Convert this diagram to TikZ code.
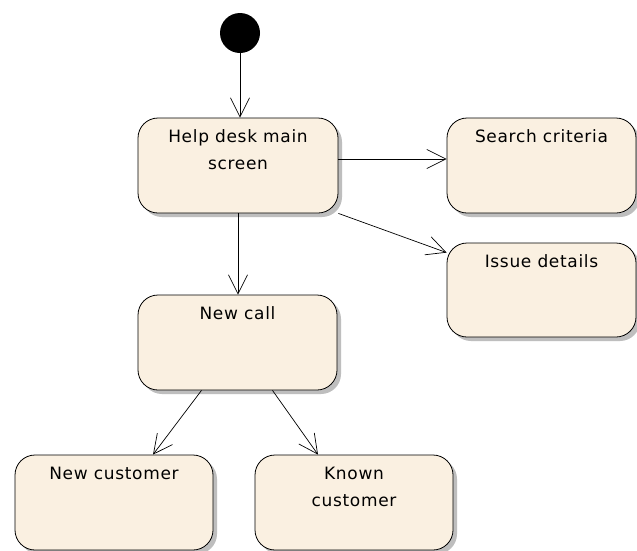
\documentclass[tikz,border=0pt]{standalone}
\usepackage{fontspec}
\setmainfont{DejaVu Sans}[LetterSpace=4]
\usetikzlibrary{positioning,arrows.meta,shadows}
\definecolor{statefill}{RGB}{250,240,225}
\definecolor{shadowgray}{RGB}{190,190,190}
\tikzstyle{state} = [draw, line width=0.8pt, rounded corners=20pt, fill=statefill, minimum width=200pt, minimum height=95pt, inner sep=0pt, drop shadow={shadow xshift=4pt, shadow yshift=-4pt, fill=shadowgray, opacity=1}]
\tikzstyle{statetext} = [below, align=center, font=\fontsize{17}{27}\selectfont, yshift=-12pt, inner sep=0pt]
\tikzstyle{arrow} = [line width=0.7pt, -{Straight Barb[length=19pt,width=19pt,line width=0.7pt]}]

\begin{document}
\begin{tikzpicture}[x=1pt,y=-1pt]
\clip (0,0) rectangle (637,550);
\fill[white] (0,0) rectangle (637,550);

 \node [circle, fill=black, minimum size=40pt, inner sep=0pt] (start) at (240,33){};

 \node [state, label={[statetext]north:Help desk main\\screen}] (main) at (238,165.5){};
 \node [state, minimum width=189pt, label={[statetext]north:Search criteria}] (search) at (541.5,165.5){};
 \node [state, minimum width=189pt, minimum height=94pt, label={[statetext]north:Issue details}] (issue) at (541.5,290){};
 \node [state, minimum width=199pt, label={[statetext]north:New call}] (newcall) at (237.5,342.5){};
 \node [state, minimum width=198pt, label={[statetext]north:New customer}] (newcust) at (114,502.5){};
 \node [state, minimum width=198pt, label={[statetext]north:Known\\customer}] (known) at (354,502.5){};

 \draw[arrow] (start.south) -- (start.south |- main.north);
 \draw[arrow] ([yshift=6.5pt]main.east) -- ([yshift=6.5pt]search.west);
 \draw[arrow] (main.south east) -- ([yshift=-10pt]issue.north west);
 \draw[arrow] (main.south) -- (main.south |- newcall.north);
 \draw[arrow] ([xshift=-36pt]newcall.south) -- ([xshift=39pt]newcust.north);
 \draw[arrow] ([xshift=35pt]newcall.south) -- ([xshift=-36pt]known.north);
\end{tikzpicture}
\end{document}
